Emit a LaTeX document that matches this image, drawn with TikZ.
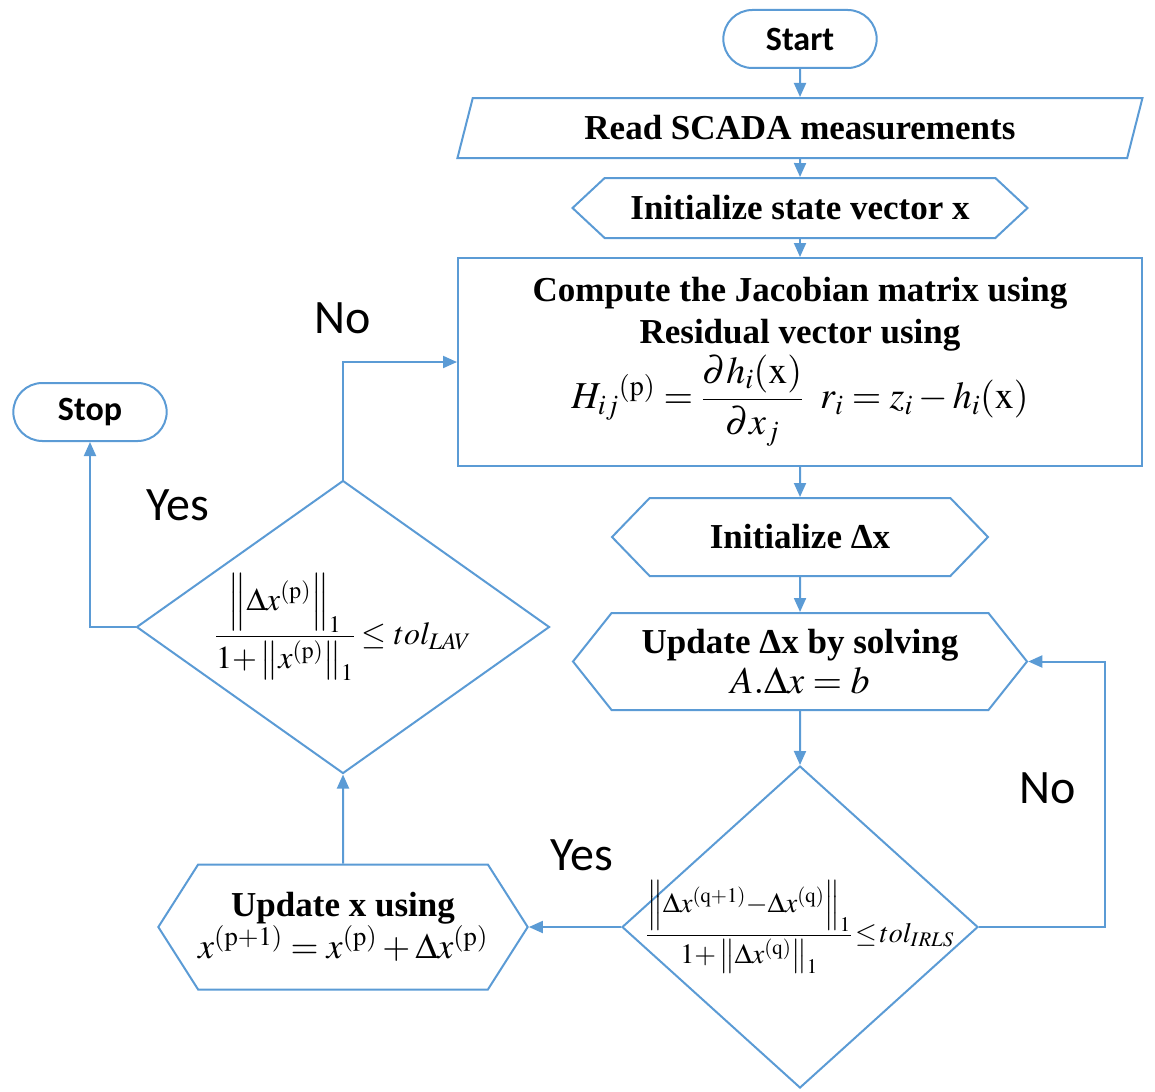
\documentclass[tikz,border=0pt]{standalone}
\usepackage{amsmath}
\usepackage{mathptmx}
\usepackage[no-math]{fontspec}
\setmainfont{Liberation Serif}
\newfontfamily\calibri{Carlito}
\usepackage{tikz}
\usetikzlibrary{arrows.meta,positioning,shapes.geometric,shapes.misc,shapes.symbols}
\definecolor{flowblue}{RGB}{91,155,213}
\tikzset{
  chart/.style={x=1pt,y=-1pt,line width=2pt},
  term/.style={rounded rectangle,draw=flowblue,minimum width=160pt,minimum height=58pt,
               font=\calibri\bfseries\fontsize{34}{40}\selectfont},
  io/.style={trapezium,trapezium left angle=64,trapezium right angle=116,
             trapezium stretches body,draw=flowblue,minimum width=685pt,minimum height=60pt,
             font=\bfseries\fontsize{35}{40}\selectfont},
  prep/.style={signal,signal to=west and east,draw=flowblue,inner sep=0pt,
               font=\bfseries\fontsize{35}{40}\selectfont,align=center},
  proc/.style={rectangle,draw=flowblue,minimum width=684pt,minimum height=208pt,
               font=\bfseries\fontsize{35}{42}\selectfont,align=center},
  decide/.style={diamond,draw=flowblue,inner sep=0pt},
  arr/.style={-{Triangle[length=14pt,width=12pt]},flowblue},
  lbl/.style={font=\calibri\fontsize{48}{48}\selectfont}}
\begin{document}
\begin{tikzpicture}[chart]
  \useasboundingbox (0,0) rectangle (1155,1091);
  \coordinate (leftcol) at (343,0);
  \node[term] (start) at (800,39) {Start};
  \node[io] (scada) [below=28pt of start] {Read SCADA measurements};
  \node[prep,minimum width=455pt,minimum height=60pt,signal pointer angle=86]
    (init) [below=18pt of scada] {Initialize state vector x};
  \node[proc] (jac) [below=18pt of init]
    {Compute the Jacobian matrix using\\Residual vector using\\[2pt]
     \fontsize{38}{44}\selectfont\mdseries
     $H_{ij}{}^{(\mathrm{p})}=\dfrac{\partial h_i(\mathrm{x})}{\partial x_j}\;\;
      r_i=z_i-h_i(\mathrm{x})$};
  \node[prep,minimum width=376pt,minimum height=78pt,signal pointer angle=92]
    (idx) [below=30pt of jac] {Initialize Δx};
  \node[prep,minimum width=454pt,minimum height=97pt,signal pointer angle=103]
    (upd) [below=35pt of idx]
    {Update Δx by solving\\\fontsize{38}{40}\selectfont\mdseries$A.\Delta x=b$};
  \node[decide,minimum width=356pt,minimum height=322pt] (irls) [below=54pt of upd]
    {\makebox[0pt]{\fontsize{28}{32}\selectfont
     $\dfrac{\left\|\Delta x^{(\mathrm{q+1})}{-}\Delta x^{(\mathrm{q})}\right\|_1}
            {1{+}\left\|\Delta x^{(\mathrm{q})}\right\|_1}\!\le\! tol_{IRLS}$}};
  \node[prep,minimum width=357pt,minimum height=125pt,signal pointer angle=115]
    (updx) at (leftcol |- irls)
    {Update x using\\\fontsize{36}{44}\selectfont\mdseries
     $x^{(\mathrm{p+1})}=x^{(\mathrm{p})}+\Delta x^{(\mathrm{p})}$};
  \node[decide,minimum width=413pt,minimum height=293pt] (lav) at (343,627)
    {\makebox[0pt]{\fontsize{32}{36}\selectfont
     $\dfrac{\left\|\Delta x^{(\mathrm{p})}\right\|_1}
            {1{+}\left\|x^{(\mathrm{p})}\right\|_1}\le tol_{LAV}$}};
  \node[term] (stop) at (90,412) {Stop};
  % yes / no labels
  \node[lbl] (lavyes) at (178,505) {Yes};
  \node[lbl] (lavno) at (343,318) {No};
  \node[lbl] (irlsyes) at (582,855) {Yes};
  \node[lbl] (irlsno) at (1048,788) {No};
  % connectors
  \draw[arr] (start) -- (scada);
  \draw[arr] (scada) -- (init);
  \draw[arr] (init) -- (jac);
  \draw[arr] (jac) -- (idx);
  \draw[arr] (idx) -- (upd);
  \draw[arr] (upd) -- (irls);
  \draw[arr] (irls.east) -- ++(126,0) |- (upd.east);
  \draw[arr] (irls.west) -- (updx.east);
  \draw[arr] (updx) -- (lav);
  \draw[arr] (lav.north) |- (jac.west);
  \draw[arr] (lav.west) -| (stop.south);
\end{tikzpicture}
\end{document}
